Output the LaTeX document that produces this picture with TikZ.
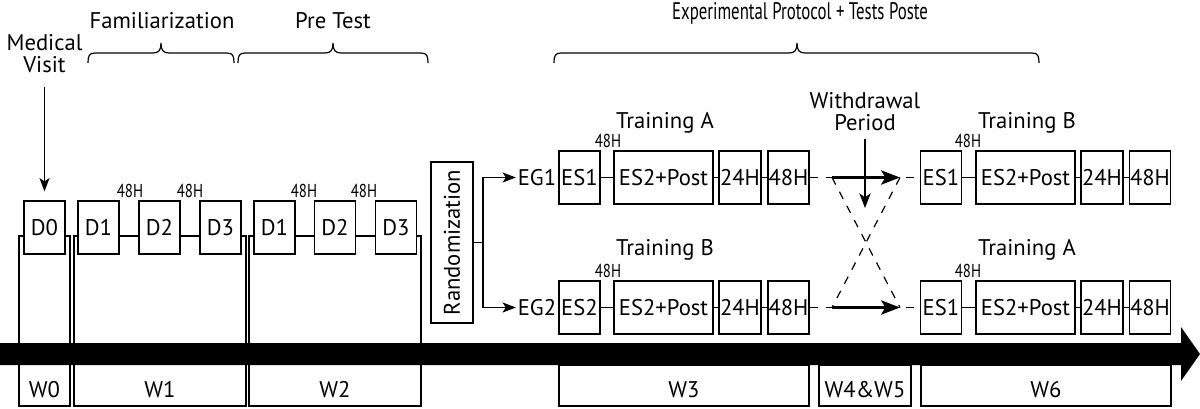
\documentclass[tikz,border=0pt]{standalone}
\usepackage{fontspec}
\setmainfont{PT Sans}
\newfontfamily\condfont[FakeStretch=0.8]{PT Sans}
\newfontfamily\exfont[FakeStretch=0.7]{PT Sans}
\usetikzlibrary{arrows.meta}
\newcommand\mainsz{\fontsize{17}{16.5}\selectfont}
\newcommand\smallsz{\fontsize{14}{15}\selectfont\condfont}
\newcommand\expsz{\fontsize{18}{18}\selectfont\exfont}
\begin{document}
\begin{tikzpicture}[x=0.75pt,y=-0.75pt,line width=0.9pt,
  box/.style={draw,fill=white,inner sep=0pt,minimum height=39.75pt,font=\mainsz},
  dbox/.style={box,minimum width=30.75pt},
  esbox/.style={box,minimum width=30.75pt},
  postbox/.style={box,minimum width=74.25pt},
  hbox/.style={box,minimum width=31.5pt},
  lbl/.style={font=\mainsz,inner sep=1pt},
  baselbl/.style={font=\mainsz,anchor=base,inner sep=0pt},
  hlbl/.style={font=\smallsz,anchor=base,inner sep=0pt},
  arr/.style={-{Stealth[length=10pt,width=7.5pt,inset=2.5pt]}},
  boldarr/.style={line width=2.6pt,-{Stealth[length=14pt,width=10.5pt,inset=3pt]}},
  dsh/.style={dash pattern=on 6pt off 6pt},
  bracepath/.style={line width=0.9pt}
]
\useasboundingbox (0,0) rectangle (1200,408);

% week columns
\draw (19,236) rectangle (70,406);
\draw (74,236) rectangle (246,406);
\draw (249,236) rectangle (421,406);
\draw (559,365) rectangle (809,406);
\draw (819,365) rectangle (911,406);
\draw (921,365) rectangle (1171,406);

% timeline bar
\fill (0,343) -- (1181,343) -- (1181,327) -- (1200,354) -- (1181,381) -- (1181,365) -- (0,365) -- cycle;

% week labels
\node[baselbl] (w0) at (44.5,397) {W0};
\node[baselbl] (w1) at (160,397) {W1};
\node[baselbl] (w2) at (335,397) {W2};
\node[baselbl] (w3) at (684,397) {W3};
\node[baselbl] (w45) at (865,397) {W4\&W5};
\node[baselbl] (w6) at (1046,397) {W6};

% day boxes
\node[dbox] (d0) at (44.5,227.5) {D0};
\node[dbox] (fd1) at (98.5,227.5) {D1};
\node[dbox] (fd2) at (159.5,227.5) {D2};
\node[dbox] (fd3) at (220.5,227.5) {D3};
\node[dbox] (pd1) at (274.5,227.5) {D1};
\node[dbox] (pd2) at (335,227.5) {D2};
\node[dbox] (pd3) at (396,227.5) {D3};

\node[hlbl] (h1) at (130,197) {48H};
\node[hlbl] (h2) at (190,197) {48H};
\node[hlbl] (h3) at (304,197) {48H};
\node[hlbl] (h4) at (364,197) {48H};

% medical visit
\node[lbl,align=center] (mv) at (44.5,54) {Medical\\Visit};
\coordinate (mva) at (44.5,87);
\draw[arr,shorten >=6.75pt] (mva) -- (d0.north);

% braces
\draw[bracepath] (88,63) .. controls (88,56) and (89,53) .. (95,53) -- (153,53) .. controls (159,53) and (161,50) .. (161,43)
  .. controls (161,50) and (163,53) .. (169,53) -- (227,53) .. controls (233,53) and (234,56) .. (234,63);
\draw[bracepath] (238,63) .. controls (238,56) and (239,53) .. (245,53) -- (325,53) .. controls (331,53) and (333,50) .. (333,43)
  .. controls (333,50) and (335,53) .. (341,53) -- (421,53) .. controls (427,53) and (428,56) .. (428,63);
\draw[bracepath] (554,63) .. controls (554,56) and (555,53) .. (561,53) -- (789,53) .. controls (795,53) and (797,50) .. (797,43)
  .. controls (797,50) and (799,53) .. (805,53) -- (1032,53) .. controls (1038,53) and (1039,56) .. (1039,63);
\node[baselbl] (fam) at (162,28) {Familiarization};
\node[baselbl] (pre) at (333,28) {Pre Test};
\node[baselbl,font=\expsz] (exp) at (800,19.5) {Experimental Protocol + Tests Poste};

% randomization
\node[draw,rotate=90,minimum width=120.75pt,minimum height=31.5pt,inner sep=0pt,font=\mainsz] (rand) at (452,242.5) {Randomization};
\coordinate (split) at (483,242.5);
\node[lbl] (eg1) at (537,177.5) {EG1};
\node[lbl] (eg2) at (537,307.5) {EG2};
\draw (split) -- (rand);
\draw[arr] (split) |- (eg1);
\draw[arr] (split) |- (eg2);

% washout points
\coordinate (wa1) at (832,177.5);
\coordinate (wb1) at (900,177.5);
\coordinate (wa2) at (832,307.5);
\coordinate (wb2) at (900,307.5);

% row EG1 first period
\node[esbox] (es1a) at (579.5,177.5) {ES1};
\node[postbox] (epa) at (663.5,177.5) {ES2+Post};
\node[hbox] (h24a) at (740,177.5) {24H};
\node[esbox] (h48a) at (788.5,177.5) {48H};
% row EG1 second period
\node[esbox] (es1b) at (941,177.5) {ES1};
\node[postbox] (epb) at (1025.5,177.5) {ES2+Post};
\node[hbox] (h24b) at (1102,177.5) {24H};
\node[esbox] (h48b) at (1150,177.5) {48H};
% row EG2 first period
\node[esbox] (es2c) at (579.5,307.5) {ES2};
\node[postbox] (epc) at (663.5,307.5) {ES2+Post};
\node[hbox] (h24c) at (740,307.5) {24H};
\node[esbox] (h48c) at (788.5,307.5) {48H};
% row EG2 second period
\node[esbox] (es1d) at (941,307.5) {ES1};
\node[postbox] (epd) at (1025.5,307.5) {ES2+Post};
\node[hbox] (h24d) at (1102,307.5) {24H};
\node[esbox] (h48d) at (1150,307.5) {48H};

\draw (es1a) -- (epa); \draw (epa) -- (h24a); \draw (h24a) -- (h48a);
\draw (es1b) -- (epb); \draw (epb) -- (h24b); \draw (h24b) -- (h48b);
\draw (es2c) -- (epc); \draw (epc) -- (h24c); \draw (h24c) -- (h48c);
\draw (es1d) -- (epd); \draw (epd) -- (h24d); \draw (h24d) -- (h48d);

\draw[dsh] (h48a) -- (es1b);
\draw[dsh] (h48c) -- (es1d);
\draw[dsh] (wa1) -- (wb2);
\draw[dsh] (wb1) -- (wa2);
\draw[boldarr] (wa1) -- (wb1);
\draw[boldarr] (wa2) -- (wb2);

\node[hlbl] (h5) at (608,147) {48H};
\node[hlbl] (h6) at (608,277) {48H};
\node[hlbl] (h7) at (968,147) {48H};
\node[hlbl] (h8) at (968,277) {48H};

\node[baselbl] (tra) at (665,128) {Training A};
\node[baselbl] (trb) at (665,255) {Training B};
\node[baselbl] (trb2) at (1027,128) {Training B};
\node[baselbl] (tra2) at (1027,255) {Training A};

% withdrawal
\node[lbl,align=center] (wd) at (865,111.5) {Withdrawal\\Period};
\coordinate (wds) at (865,139);
\coordinate (wde) at (865,208);
\draw[-{Stealth[length=11pt,width=8.5pt,inset=3pt]}] (wds) -- (wde);
\end{tikzpicture}
\end{document}
